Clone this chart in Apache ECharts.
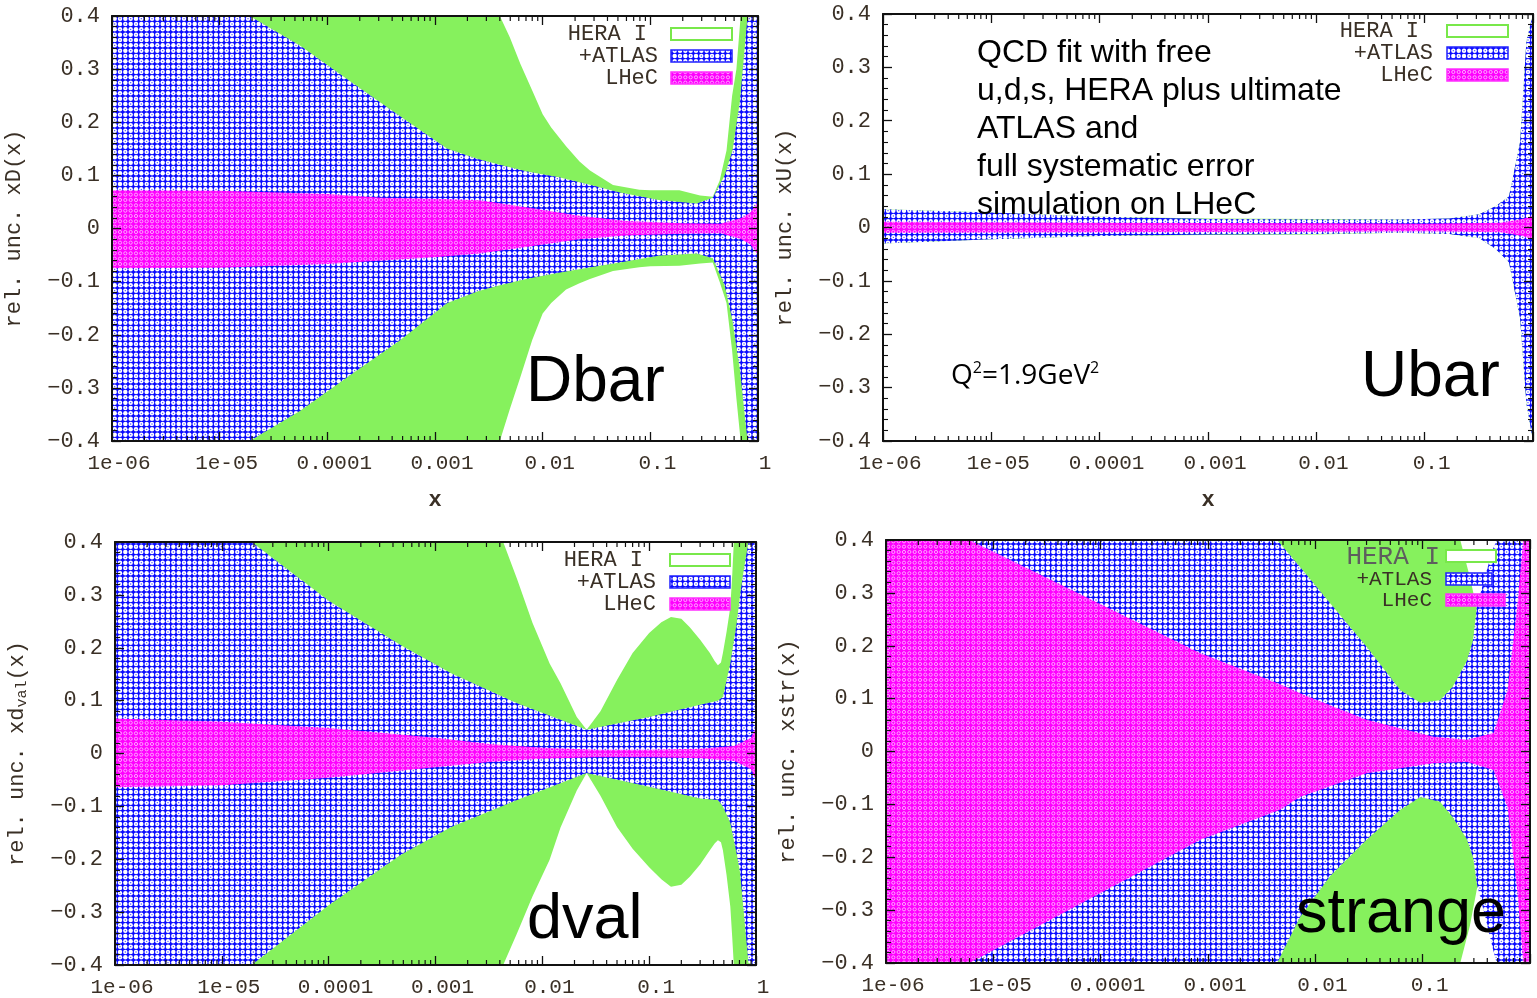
<!DOCTYPE html>
<html>
<head>
<meta charset="utf-8">
<title>Relative PDF uncertainties: HERA I, +ATLAS, LHeC</title>
<script src="https://cdn.jsdelivr.net/npm/echarts@6/dist/echarts.min.js"></script>
<style>
  html, body { margin: 0; padding: 0; background: #ffffff; }
  #chart { width: 1537px; height: 998px; }
</style>
</head>
<body>
<div id="chart"></div>
<script>
// ---- tick labels (gnuplot style) ----
const xTickLabels = ['1e-06', '1e-05', '0.0001', '0.001', '0.01', '0.1', '1'];
const yTickLabels = ['\u22120.4', '\u22120.3', '\u22120.2', '\u22120.1', '0', '0.1', '0.2', '0.3', '0.4'];
const bandNames = ['HERA I', '+ATLAS', 'LHeC'];

// ---- uncertainty bands, rows are [x, lower, upper] ----
// Dbar
const dbarHera = [
  [1e-6, -0.4, 0.4], [4.0e-3, -0.4, 0.4], [4.95e-3, -0.34, 0.36], [6.2e-3, -0.28, 0.31],
  [8.0e-3, -0.21, 0.26], [1.0e-2, -0.16, 0.215], [1.2e-2, -0.14, 0.19], [1.65e-2, -0.115, 0.155],
  [2.2e-2, -0.103, 0.126], [2.75e-2, -0.095, 0.109], [4.5e-2, -0.080, 0.082], [7.9e-2, -0.073, 0.073],
  [0.1, -0.071, 0.072], [0.186, -0.070, 0.072], [0.29, -0.066, 0.062], [0.38, -0.064, 0.060],
  [0.44, -0.10, 0.09], [0.51, -0.14, 0.147], [0.575, -0.23, 0.25], [0.63, -0.32, 0.30],
  [0.69, -0.4, 0.4], [1, -0.4, 0.4]
];
const dbarAtlas = [
  [1e-6, -0.4, 0.4], [1.9e-5, -0.4, 0.4], [5.6e-5, -0.343, 0.344], [1.6e-4, -0.277, 0.278],
  [4.7e-4, -0.211, 0.212], [1.3e-3, -0.140, 0.150], [2.5e-3, -0.118, 0.131], [4.0e-3, -0.107, 0.120],
  [7.0e-3, -0.095, 0.108], [1.45e-2, -0.083, 0.096], [2.8e-2, -0.073, 0.082], [5.2e-2, -0.064, 0.068],
  [0.123, -0.051, 0.053], [0.27, -0.047, 0.047], [0.38, -0.056, 0.058], [0.49, -0.107, 0.10],
  [0.58, -0.173, 0.147], [0.68, -0.267, 0.24], [0.8, -0.4, 0.4], [1, -0.4, 0.4]
];
const dbarLhec = [
  [1e-6, -0.075, 0.072], [1e-5, -0.074, 0.071], [1e-4, -0.067, 0.065], [3.2e-4, -0.060, 0.058],
  [1e-3, -0.054, 0.056], [2.6e-3, -0.047, 0.053], [7e-3, -0.035, 0.040], [2.2e-2, -0.020, 0.024],
  [6e-2, -0.013, 0.014], [0.2, -0.010, 0.010], [0.45, -0.009, 0.009], [0.7, -0.020, 0.020],
  [0.85, -0.030, 0.030], [1, -0.050, 0.050]
];

// Ubar
const ubarHera = [
  [1e-6, -0.030, 0.034], [1e-5, -0.022, 0.028], [1e-4, -0.016, 0.020], [1e-3, -0.014, 0.017],
  [1e-2, -0.013, 0.016], [5.9e-2, -0.010, 0.015], [0.17, -0.012, 0.017], [0.32, -0.020, 0.025],
  [0.45, -0.040, 0.040], [0.6, -0.065, 0.058], [0.76, -0.17, 0.16], [0.87, -0.33, 0.35], [1, -0.4, 0.4]
];
const ubarAtlas = [
  [1e-6, -0.030, 0.034], [1e-5, -0.022, 0.028], [1e-4, -0.016, 0.020], [1e-3, -0.013, 0.016],
  [1e-2, -0.012, 0.015], [5.9e-2, -0.010, 0.015], [0.17, -0.012, 0.017], [0.32, -0.020, 0.025],
  [0.45, -0.040, 0.040], [0.6, -0.065, 0.058], [0.76, -0.17, 0.16], [0.87, -0.33, 0.35], [1, -0.4, 0.4]
];
const ubarLhec = [
  [1e-6, -0.010, 0.011], [1e-4, -0.009, 0.009], [1e-2, -0.008, 0.008], [0.1, -0.007, 0.007],
  [0.5, -0.009, 0.009], [0.8, -0.016, 0.016], [1, -0.022, 0.022]
];

// dval
const dvalHera = [
  [1e-6, -0.4, 0.4], [4.3e-3, -0.4, 0.4], [5.8e-3, -0.34, 0.33], [8.1e-3, -0.27, 0.247],
  [1.17e-2, -0.201, 0.17], [1.48e-2, -0.14, 0.133], [2.1e-2, -0.07, 0.069], [2.6e-2, -0.037, 0.045],
  [3.5e-2, -0.08, 0.08], [5e-2, -0.139, 0.139], [7e-2, -0.18, 0.19], [0.1, -0.215, 0.228],
  [0.13, -0.238, 0.248], [0.16, -0.252, 0.258], [0.2, -0.248, 0.255], [0.24, -0.233, 0.239],
  [0.3, -0.21, 0.215], [0.37, -0.183, 0.19], [0.41, -0.17, 0.175], [0.44, -0.164, 0.167],
  [0.47, -0.168, 0.172], [0.49, -0.183, 0.19], [0.53, -0.23, 0.23], [0.575, -0.29, 0.277],
  [0.6, -0.35, 0.34], [0.62, -0.4, 0.4], [1, -0.4, 0.4]
];
const dvalAtlas = [
  [1e-6, -0.4, 0.4], [1.9e-5, -0.4, 0.4], [1.0e-4, -0.287, 0.289], [4.7e-4, -0.192, 0.205],
  [1.4e-3, -0.139, 0.152], [5.8e-3, -0.088, 0.095], [2.6e-2, -0.037, 0.045], [0.1, -0.063, 0.069],
  [0.3, -0.085, 0.092], [0.44, -0.088, 0.10], [0.49, -0.10, 0.107], [0.575, -0.131, 0.17],
  [0.66, -0.19, 0.247], [0.71, -0.226, 0.30], [0.76, -0.29, 0.341], [0.85, -0.396, 0.4], [1, -0.4, 0.4]
];
const dvalLhec = [
  [1e-6, -0.064, 0.066], [1e-5, -0.060, 0.060], [1e-4, -0.046, 0.048], [1e-3, -0.026, 0.030],
  [3.2e-3, -0.016, 0.018], [1e-2, -0.010, 0.011], [3.2e-2, -0.007, 0.007], [0.1, -0.007, 0.007],
  [0.3, -0.009, 0.009], [0.63, -0.014, 0.014], [0.9, -0.030, 0.030], [1, -0.050, 0.050]
];

// strange
const strHera = [
  [1e-6, -0.4, 0.4], [0.224, -0.4, 0.4], [0.275, -0.33, 0.33], [0.32, -0.26, 0.27],
  [0.4, -0.2, 0.2], [1, -0.15, 0.15]
];
const strAtlas = [
  [1e-6, -0.4, 0.4], [4.4e-3, -0.4, 0.4], [7.2e-3, -0.313, 0.349], [1.38e-2, -0.235, 0.28],
  [3e-2, -0.167, 0.198], [6.2e-2, -0.11, 0.116], [9.5e-2, -0.086, 0.092], [0.145, -0.095, 0.097],
  [0.19, -0.124, 0.122], [0.257, -0.165, 0.17], [0.295, -0.2, 0.211], [0.32, -0.25, 0.274],
  [0.38, -0.31, 0.33], [0.447, -0.37, 0.38], [0.49, -0.4, 0.4], [1, -0.4, 0.4]
];
const strLhec = [
  [1e-6, -0.4, 0.4], [6e-6, -0.4, 0.4], [8.5e-4, -0.167, 0.186], [4.7e-3, -0.11, 0.127],
  [7.2e-3, -0.086, 0.11], [3e-2, -0.041, 0.06], [0.126, -0.022, 0.028], [0.26, -0.020, 0.022],
  [0.457, -0.035, 0.035], [0.617, -0.105, 0.116], [0.76, -0.262, 0.274], [0.865, -0.4, 0.4], [1, -0.4, 0.4]
];

// log minor tick positions (2..9 in each decade)
const logMinorTicks = [];
for (let e = -6; e < 0; e++) {
  for (let k = 2; k <= 9; k++) logMinorTicks.push([k * Math.pow(10, e), 0]);
}

// ---- fill patterns ----
function makePattern(kind) {
  const size = 32, n = 6, s = size / n;
  const c = document.createElement('canvas');
  c.width = size; c.height = size;
  const g = c.getContext('2d');
  if (kind === 'blue') {
    g.fillStyle = '#0a0aff';
    g.fillRect(0, 0, size, size);
    for (let i = 0; i < n; i++) {
      for (let j = 0; j < n; j++) {
        const cx = s * (i + 0.5), cy = s * (j + 0.5);
        g.beginPath(); g.arc(cx, cy, 2.25, 0, Math.PI * 2);
        g.fillStyle = '#ffffff'; g.fill();
        if ((i + j) % 2 === 1) {
          g.beginPath(); g.arc(cx, cy, 0.7, 0, Math.PI * 2);
          g.fillStyle = '#4a4aff'; g.fill();
        }
      }
    }
  } else {
    g.fillStyle = '#ff00ff';
    g.fillRect(0, 0, size, size);
    for (let i = 0; i < n; i++) {
      for (let j = 0; j < n; j++) {
        const cx = s * (i + 0.5), cy = s * (j + 0.5);
        g.beginPath(); g.arc(cx, cy, 1.6, 0, Math.PI * 2);
        g.strokeStyle = '#ffb4ff'; g.lineWidth = 0.9; g.stroke();
      }
    }
  }
  return { image: c, repeat: 'repeat' };
}
const bluePattern = makePattern('blue');
const magentaPattern = makePattern('magenta');
const heraGreen = '#86f15d';
const bandFills = [heraGreen, bluePattern, magentaPattern];

// ---- styling constants ----
const MONO = "'Liberation Mono', 'DejaVu Sans Mono', monospace";
const SANS = "'Liberation Sans', Arial, sans-serif";
const TICK_COLOR = '#3a3026';
const FRAME = '#111111';

const grids = [
  { left: 112, top: 16, width: 646, height: 425 },
  { left: 883, top: 14, width: 650, height: 427 },
  { left: 115, top: 542, width: 641, height: 423 },
  { left: 886, top: 540, width: 644, height: 423 }
];

const panels = [
  { yName: 'rel. unc. xD(x)', xName: 'x', hideLast: false, bands: [dbarHera, dbarAtlas, dbarLhec] },
  { yName: 'rel. unc. xU(x)', xName: 'x', hideLast: true, bands: [ubarHera, ubarAtlas, ubarLhec] },
  { yName: 'rel. unc. xd{sub|val}(x)', xName: '', hideLast: false, bands: [dvalHera, dvalAtlas, dvalLhec] },
  { yName: 'rel. unc. xstr(x)', xName: '', hideLast: true, bands: [strHera, strAtlas, strLhec] }
];

// ---- renderers ----
function makeBandRenderer(fill) {
  return function (params, api) {
    if (params.dataIndexInside !== 0) return null;
    const n = params.dataInsideLength;
    const pts = [];
    for (let i = 0; i < n; i++) pts.push(api.coord([api.value(0, i), api.value(2, i)]));
    for (let i = n - 1; i >= 0; i--) pts.push(api.coord([api.value(0, i), api.value(1, i)]));
    return { type: 'polygon', shape: { points: pts }, style: { fill: fill, stroke: null } };
  };
}

function minorTickRender(params, api) {
  const b = api.coord([api.value(0), -0.4]);
  const t = api.coord([api.value(0), 0.4]);
  const st = { stroke: FRAME, lineWidth: 1.2 };
  return {
    type: 'group',
    children: [
      { type: 'line', shape: { x1: b[0], y1: b[1], x2: b[0], y2: b[1] - 5 }, style: st },
      { type: 'line', shape: { x1: t[0], y1: t[1], x2: t[0], y2: t[1] + 5 }, style: st }
    ]
  };
}

// ---- axes & series ----
const xAxes = [], yAxes = [], series = [];
panels.forEach(function (p, i) {
  const xBase = {
    type: 'log', logBase: 10, min: 1e-6, max: 1, gridIndex: i, z: 10,
    axisLine: { onZero: false, lineStyle: { color: FRAME, width: 2 } },
    axisTick: { inside: true, length: 9, lineStyle: { color: FRAME, width: 1.3 } },
    splitLine: { show: false }
  };
  xAxes.push(Object.assign({}, xBase, {
    position: 'bottom',
    name: p.xName, nameLocation: 'middle', nameGap: 48,
    nameTextStyle: { fontFamily: MONO, fontSize: 22, color: TICK_COLOR, fontWeight: 'bold' },
    axisLabel: {
      margin: 12, fontFamily: MONO, fontSize: 21, color: TICK_COLOR, padding: [0, 0, 0, 14],
      formatter: function (v, idx) { return (p.hideLast && idx === 6) ? '' : xTickLabels[idx]; }
    }
  }));
  xAxes.push(Object.assign({}, xBase, { position: 'top', axisLabel: { show: false } }));

  const yBase = {
    type: 'value', min: -0.4, max: 0.4, interval: 0.1, gridIndex: i, z: 10,
    axisLine: { onZero: false, lineStyle: { color: FRAME, width: 2 } },
    axisTick: { inside: true, length: 9, lineStyle: { color: FRAME, width: 1.3 } },
    minorTick: { show: true, splitNumber: 5, length: 5, lineStyle: { color: FRAME, width: 1.1 } },
    splitLine: { show: false }, minorSplitLine: { show: false }
  };
  yAxes.push(Object.assign({}, yBase, {
    position: 'left',
    name: p.yName, nameLocation: 'middle', nameGap: 85, nameRotate: 90,
    nameTextStyle: {
      fontFamily: MONO, fontSize: 22, color: TICK_COLOR, lineHeight: 26,
      rich: { sub: { fontFamily: MONO, fontSize: 15, color: TICK_COLOR, lineHeight: 14, verticalAlign: 'bottom' } }
    },
    axisLabel: {
      margin: 12, fontFamily: MONO, fontSize: 22, color: TICK_COLOR,
      formatter: function (v, idx) { return yTickLabels[idx]; }
    }
  }));
  yAxes.push(Object.assign({}, yBase, { position: 'right', axisLabel: { show: false } }));

  p.bands.forEach(function (band, b) {
    series.push({
      type: 'custom', name: bandNames[b], xAxisIndex: 2 * i, yAxisIndex: 2 * i,
      data: band, encode: { x: 0, y: [1, 2] }, clip: true, silent: true,
      renderItem: makeBandRenderer(bandFills[b])
    });
  });
  series.push({
    type: 'custom', name: 'minor ticks', xAxisIndex: 2 * i, yAxisIndex: 2 * i, z: 12,
    data: logMinorTicks, encode: { x: 0, y: 1 }, silent: true, renderItem: minorTickRender
  });
});

// ---- legends, labels and annotations ----
const graphics = [];
function text(x, y, str, style) {
  graphics.push({
    type: 'text', x: x, y: y, z: 20, silent: true,
    style: Object.assign({ text: str, fill: '#000', align: 'left', verticalAlign: 'middle',
      textAlign: 'left', textVerticalAlign: 'middle' }, style)
  });
}
function box(x, y, w, h, fill, stroke, lw) {
  graphics.push({ type: 'rect', z: 20, silent: true, shape: { x: x, y: y, width: w, height: h },
    style: { fill: fill, stroke: stroke, lineWidth: lw } });
}
function legend(rows) {
  bandNames.forEach(function (name, k) {
    const r = rows[k];
    text(r.tx, r.ty, name, { fontFamily: MONO, fontSize: r.fs || 22, fill: r.color || TICK_COLOR,
      align: 'right', textAlign: 'right' });
  });
  box(rows[0].bx, rows[0].by, rows[0].bw, 12, '#ffffff', '#78e84a', 2);
  box(rows[1].bx, rows[1].by, rows[1].bw, 12, bluePattern, '#2020ff', 1.5);
  box(rows[2].bx, rows[2].by, rows[2].bw, 12, magentaPattern, '#ff30ff', 1.5);
}

legend([
  { tx: 647, ty: 34, bx: 671, by: 28, bw: 61 },
  { tx: 658, ty: 56, bx: 671, by: 50, bw: 61 },
  { tx: 658, ty: 78, bx: 671, by: 72, bw: 61 }
]);
legend([
  { tx: 1419, ty: 31, bx: 1447, by: 25, bw: 61 },
  { tx: 1433, ty: 53, bx: 1447, by: 47, bw: 61 },
  { tx: 1433, ty: 75, bx: 1447, by: 69, bw: 61 }
]);
legend([
  { tx: 643, ty: 560, bx: 670, by: 554, bw: 60 },
  { tx: 656, ty: 582, bx: 670, by: 576, bw: 60 },
  { tx: 656, ty: 604, bx: 670, by: 598, bw: 60 }
]);
legend([
  { tx: 1440, ty: 557, bx: 1446, by: 550, bw: 50, fs: 26, color: '#5e5e5e' },
  { tx: 1432, ty: 579, bx: 1446, by: 573, bw: 46, fs: 21 },
  { tx: 1432, ty: 600, bx: 1446, by: 594, bw: 59, fs: 21 }
]);

// panel titles
text(526, 383, 'Dbar', { fontFamily: SANS, fontSize: 64 });
text(1361, 378, 'Ubar', { fontFamily: SANS, fontSize: 64 });
text(527, 921, 'dval', { fontFamily: SANS, fontSize: 63 });
text(1296, 915, 'strange', { fontFamily: SANS, fontSize: 63 });

// fit description
graphics.push({
  type: 'text', x: 977, y: 34, z: 20, silent: true,
  style: {
    text: 'QCD fit with free\nu,d,s, HERA plus ultimate\nATLAS and\nfull systematic error\nsimulation on LHeC',
    fontFamily: SANS, fontSize: 32, lineHeight: 38, fill: '#000',
    align: 'left', verticalAlign: 'top', textAlign: 'left', textVerticalAlign: 'top'
  }
});
graphics.push({
  type: 'text', x: 951, y: 376, z: 20, silent: true,
  style: {
    text: 'Q{s|2}=1.9GeV{s|2}',
    fontFamily: "'Open Sans', 'Noto Sans', sans-serif", fontSize: 28, lineHeight: 32, fill: '#000',
    align: 'left', verticalAlign: 'middle', textAlign: 'left', textVerticalAlign: 'middle',
    rich: { s: { fontFamily: "'Open Sans', 'Noto Sans', sans-serif", fontSize: 16, lineHeight: 18, verticalAlign: 'top', fill: '#000' } }
  }
});

const chart = echarts.init(document.getElementById('chart'), null, { renderer: 'canvas' });
chart.setOption({
  animation: false,
  backgroundColor: '#ffffff',
  grid: grids,
  xAxis: xAxes,
  yAxis: yAxes,
  series: series,
  graphic: { elements: graphics }
});
</script>
</body>
</html>
